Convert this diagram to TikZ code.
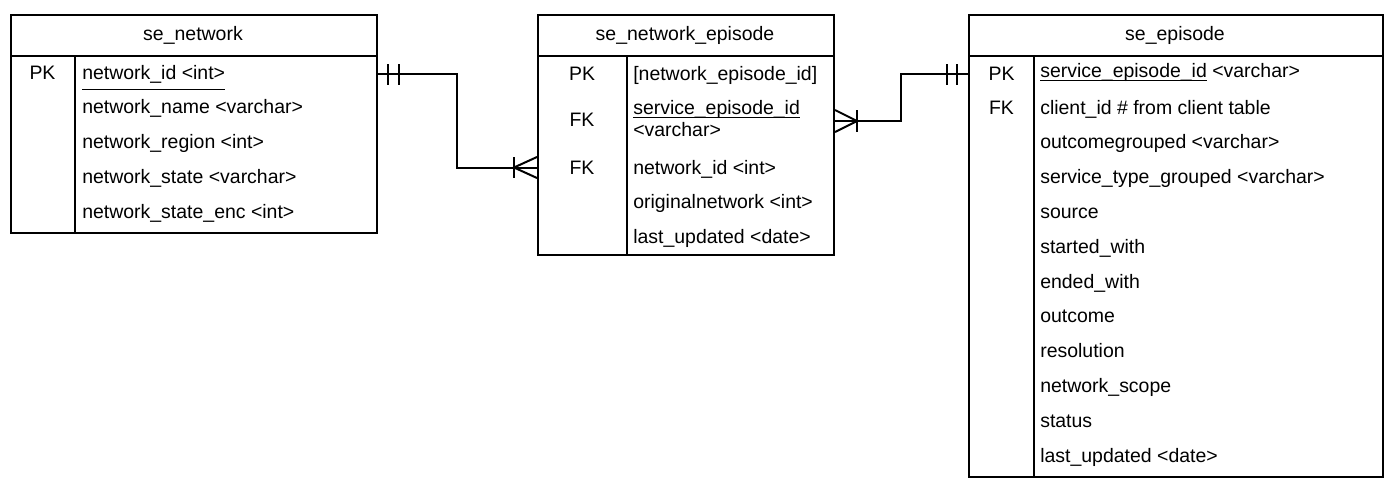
\documentclass[tikz,border=0pt]{standalone}
\usepackage{fontspec}
\setmainfont{Liberation Sans}
\newcommand\myul[2]{\setbox0\hbox{#2}\rlap{\vrule height -#1 depth \dimexpr#1+0.8pt\relax width \wd0}\box0\relax}
\begin{document}
\begin{tikzpicture}[x=0.75pt,y=-0.75pt,
  tbl/.style={draw, line width=1.5pt, inner sep=0pt, anchor=north west},
  sep/.style={line width=1.5pt},
  txt/.style={inner sep=0pt, font=\fontsize{14.6pt}{17pt}\selectfont, yshift=-0.8pt},
  fld/.style={txt, anchor=base west},
  key/.style={txt, anchor=base},
  ttl/.style={txt, anchor=base},
  rel/.style={line width=1.5pt}]
\useasboundingbox (0,0) rectangle (1392,482);

% ---------- se_network ----------
\node[tbl, minimum width=274.5pt, minimum height=163.5pt] (net) at (10,14) {};
\draw[sep] (10,56) -- (376,56);
\draw[sep] (75,56) -- (75,232);
\node[ttl] (netT) at (193,39) {se\_network};
\node[key] (netK1) at (42.5,78.5) {PK};
\node[fld] (netF1) at (82,78) {\myul{7.2pt}{network\_id <int>}};
\node[fld] (netF2) at (82,112.8) {network\_name <varchar>};
\node[fld] (netF3) at (82,147.6) {network\_region <int>};
\node[fld] (netF4) at (82,182.4) {network\_state <varchar>};
\node[fld] (netF5) at (82,217.2) {network\_state\_enc <int>};

% ---------- se_network_episode ----------
\node[tbl, minimum width=222pt, minimum height=180pt] (nep) at (537,14) {};
\draw[sep] (537,56) -- (833,56);
\draw[sep] (627,56) -- (627,254);
\node[ttl] (nepT) at (685,39) {se\_network\_episode};
\node[key] (nepK1) at (582,79) {PK};
\node[key] (nepK2) at (582,125) {FK};
\node[key] (nepK3) at (582,173) {FK};
\node[fld] (nepF1) at (633,79) {[network\_episode\_id]};
\node[fld] (nepF2) at (633,113) {\myul{2.25pt}{service\_episode\_id}};
\node[fld] (nepF2b) at (633,135) {<varchar>};
\node[fld] (nepF3) at (633,173) {network\_id <int>};
\node[fld] (nepF4) at (633,207.5) {originalnetwork <int>};
\node[fld] (nepF5) at (633,242) {last\_updated <date>};

% ---------- se_episode ----------
\node[tbl, minimum width=310.5pt, minimum height=346.5pt] (sep) at (968,14) {};
\draw[sep] (968,56) -- (1382,56);
\draw[sep] (1034,56) -- (1034,476);
\node[ttl] (sepT) at (1175,39) {se\_episode};
\node[key] (sepK1) at (1001.5,79.5) {PK};
\node[key] (sepK2) at (1001.5,113) {FK};
\node[fld] (sepF1) at (1040,76) {\myul{2.25pt}{service\_episode\_id} <varchar>};
\node[fld] (sepF2) at (1040,113) {client\_id \# from client table};
\node[fld] (sepF3) at (1040,147.8) {outcomegrouped <varchar>};
\node[fld] (sepF4) at (1040,182.6) {service\_type\_grouped <varchar>};
\node[fld] (sepF5) at (1040,217.4) {source};
\node[fld] (sepF6) at (1040,252.2) {started\_with};
\node[fld] (sepF7) at (1040,287) {ended\_with};
\node[fld] (sepF8) at (1040,321.8) {outcome};
\node[fld] (sepF9) at (1040,356.6) {resolution};
\node[fld] (sepF10) at (1040,391.4) {network\_scope};
\node[fld] (sepF11) at (1040,426.2) {status};
\node[fld] (sepF12) at (1040,461) {last\_updated <date>};

% ---------- connectors ----------
\coordinate (r1a) at (net.east |- 0,74);
\coordinate (r1b) at (nep.west |- 0,167.5);
\draw[rel] (r1a) -- (457,74) |- (r1b);
\draw[rel] (388,64) -- (388,85) (399,64) -- (399,85);
\draw[rel] (514,157) -- (514,178);
\draw[rel] (r1b |- 0,157) -- (514,167.5) -- (r1b |- 0,178);

\coordinate (r2a) at (nep.east |- 0,121);
\coordinate (r2b) at (sep.west |- 0,74);
\draw[rel] (r2a) -- (901,121) |- (r2b);
\draw[rel] (r2a |- 0,110) -- (857,121) -- (r2a |- 0,132);
\draw[rel] (857,110) -- (857,132);
\draw[rel] (947,64) -- (947,85) (957,64) -- (957,85);
\end{tikzpicture}
\end{document}
